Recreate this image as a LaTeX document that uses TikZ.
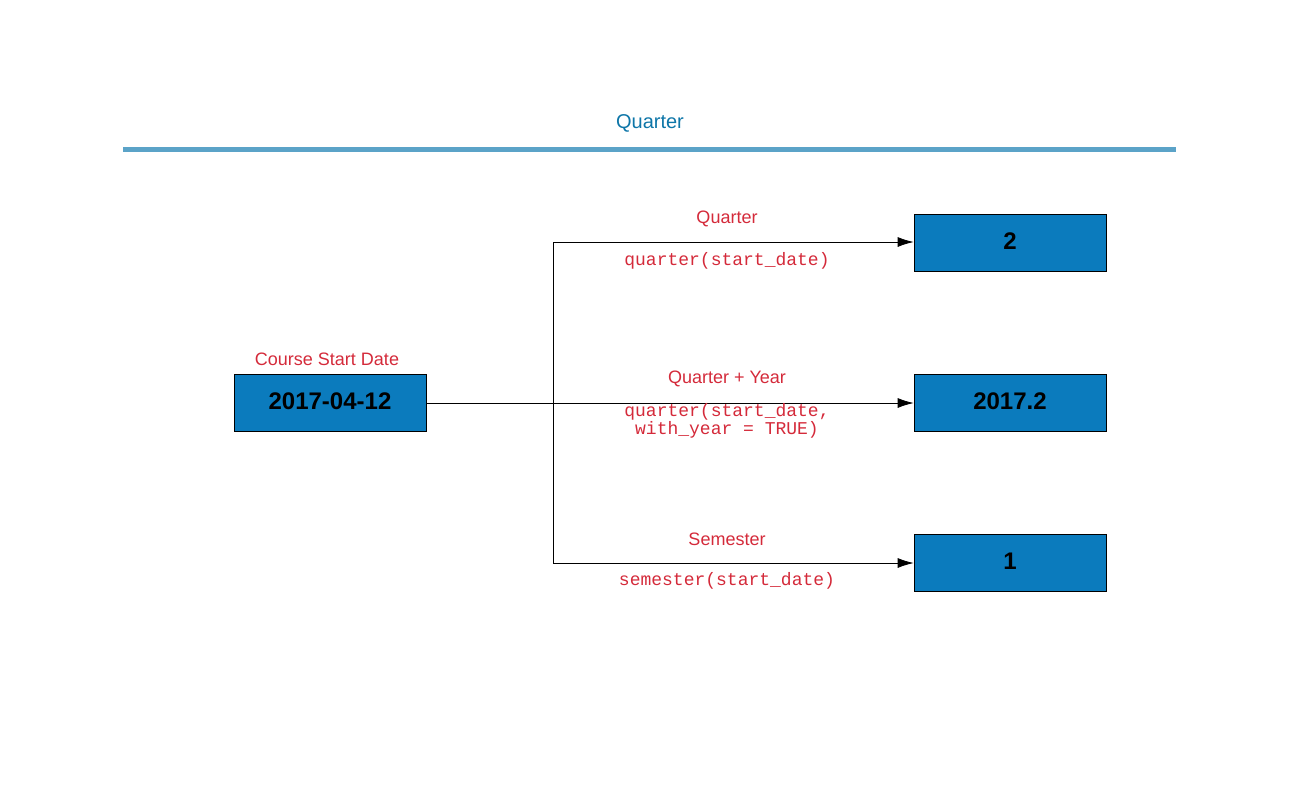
\documentclass[tikz,border=0pt]{standalone}
\usepackage{fontspec}
\setmainfont{Liberation Sans}
\setmonofont{Liberation Mono}
\usetikzlibrary{arrows.meta}
\definecolor{boxblue}{HTML}{0B7BBD}
\definecolor{titleblue}{HTML}{0E76A8}
\definecolor{rulebl}{HTML}{5BA3C8}
\definecolor{lblred}{HTML}{D42A3A}
\begin{document}
\begin{tikzpicture}[x=1pt,y=-1pt,
  valbox/.style={draw=black, fill=boxblue, line width=0.8pt, minimum width=192pt, minimum height=57pt, inner sep=0pt, font=\fontsize{24}{28}\selectfont\bfseries},
  lbl/.style={text=lblred, font=\fontsize{18}{21}\selectfont},
  code/.style={text=lblred, font=\fontsize{18}{18}\selectfont\ttfamily, align=center},
  conn/.style={draw=black, line width=0.8pt},
  arr/.style={conn, -{Latex[length=16pt,width=10pt]}}]
\useasboundingbox (0,0) rectangle (1300,800);
\node[text=titleblue, font=\fontsize{20}{24}\selectfont] (title) at (650,123) {Quarter};
\coordinate (r1) at (123,149);
\coordinate (r2) at (1176,149);
\draw[rulebl, line width=5pt] (r1) -- (r2);
\node[valbox] (src) at (330,403) {\raisebox{3.5pt}{2017-04-12}};
\node[lbl] (srclbl) at (327,359) {Course Start Date};
\node[valbox] (q) at (1010,242.5) {\raisebox{3.5pt}{2}};
\node[valbox] (qy) at (1010,403) {\raisebox{3.5pt}{2017.2}};
\node[valbox] (s) at (1010,563) {\raisebox{3.5pt}{1}};
\coordinate (br) at (553,403);
\coordinate (bt) at (553,242);
\coordinate (bb) at (553,563);
\draw[conn] (src.east) -- (br);
\draw[conn] (bt) -- (bb);
\draw[arr] (bt) -- (q.west |- bt);
\draw[arr] (br) -- (qy.west);
\draw[arr] (bb) -- (s.west |- bb);
\node[lbl] (l1) at (727,219) {Quarter};
\node[code] (c1) at (727,261) {quarter(start\_date)};
\node[lbl] (l2) at (727,379) {Quarter + Year};
\node[code] (c2) at (727,421) {quarter(start\_date,\\with\_year = TRUE)};
\node[lbl] (l3) at (727,539) {Semester};
\node[code] (c3) at (727,581) {semester(start\_date)};
\end{tikzpicture}
\end{document}
